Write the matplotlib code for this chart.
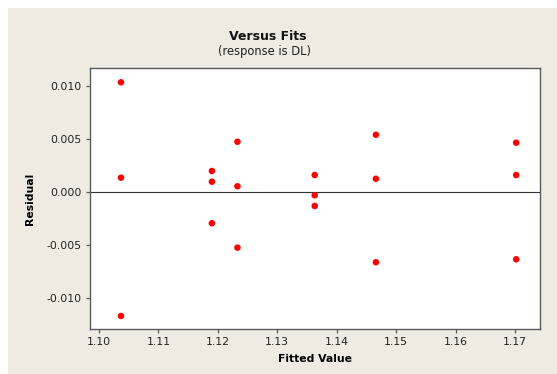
import numpy as np
import matplotlib.pyplot as plt

# fitted values and residuals
fitted = [1.1037, 1.1037, 1.1037,
          1.1190, 1.1190, 1.1190,
          1.1233, 1.1233, 1.1233,
          1.1363, 1.1363, 1.1363,
          1.1466, 1.1466, 1.1466,
          1.1702, 1.1702, 1.1702]
resid = [0.01038, 0.00138, -0.01167,
         0.00201, 0.00100, -0.00292,
         0.00477, 0.00057, -0.00522,
         0.00163, -0.00028, -0.00129,
         0.00543, 0.00128, -0.00660,
         0.00468, 0.00163, -0.00632]

xticks = [1.10, 1.11, 1.12, 1.13, 1.14, 1.15, 1.16, 1.17]
yticks = [-0.010, -0.005, 0.000, 0.005, 0.010]

W, H = 557, 374
bg = '#efebe2'

fig = plt.figure(figsize=(W / 100, H / 100), dpi=100, facecolor='white')
# beige panel behind the chart (white margin top/left like the screenshot)
fig.patches.append(plt.Rectangle((8 / W, 0), 1 - 8 / W, 1 - 8 / H,
                                 transform=fig.transFigure, facecolor=bg,
                                 edgecolor='none', zorder=-10))

ax = fig.add_axes([90 / W, 1 - 329 / H, 450 / W, 261 / H])
ax.set_facecolor('white')
ax.scatter(fitted, resid, s=22, color='#ff0000', edgecolors='none', zorder=3)
ax.axhline(0, color='#333333', lw=0.8, zorder=2)

ax.set_xlim(1.09849, 1.17421)
ax.set_ylim(-0.0129, 0.01173)
ax.set_xticks(xticks)
ax.set_xticklabels(['%.2f' % v for v in xticks])
ax.set_yticks(yticks)
ax.set_yticklabels(['%.3f' % v for v in yticks])

for s in ax.spines.values():
    s.set_color('#5a5a5a')
    s.set_linewidth(1.0)
ax.tick_params(direction='out', length=3, width=0.9, color='#5a5a5a',
               labelsize=7.8, labelcolor='#222222', pad=3)

ax.set_xlabel('Fitted Value', fontsize=7.8, fontweight='bold', labelpad=5)
ax.set_ylabel('Residual', fontsize=7.8, fontweight='bold', labelpad=8)

fig.text(268 / W, 1 - 36 / H, 'Versus Fits', ha='center', va='center',
         fontsize=9, fontweight='bold', color='#111111')
fig.text(265 / W, 1 - 51 / H, '(response is DL)', ha='center', va='center',
         fontsize=8.3, color='#222222')

fig.savefig('out.png', dpi=100, facecolor=fig.get_facecolor())
